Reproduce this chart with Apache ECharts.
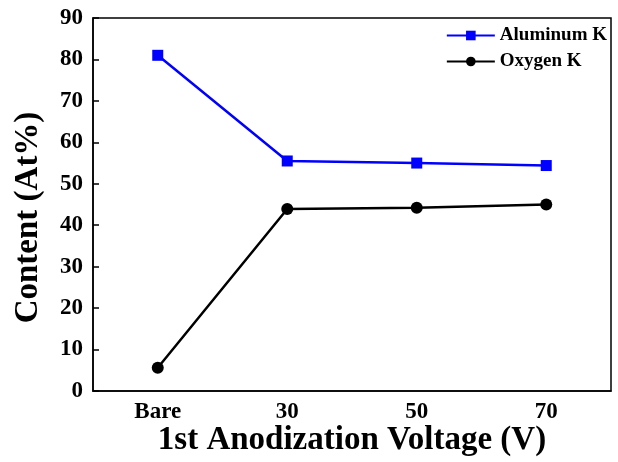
<!DOCTYPE html>
<html>
<head>
<meta charset="utf-8">
<script src="https://cdn.jsdelivr.net/npm/echarts@6/dist/echarts.min.js"></script>
<style>
  html, body { margin:0; padding:0; background:#fff; }
  #chart { width:618px; height:462px; }
</style>
</head>
<body>
<div id="chart"></div>
<script>
	var voltages = ['Bare', '30', '50', '70'];
	var aluminumK = [81.0, 55.5, 55.0, 54.4];
	var oxygenK = [5.6, 43.9, 44.2, 45.0];
	var yTicks = [0, 90, 10]; // min, max, step

	var FONT = '"Liberation Serif", "Times New Roman", serif';
	var myChart = echarts.init(document.getElementById('chart'));

	var option = {
	    backgroundColor: '#fff',
	    animation: false,
	    grid: {
	        left: 93, right: 7, top: 18, bottom: 71,
	        outerBoundsMode: 'none',
	        containLabel: false,
	        show: true,
	        borderColor: '#000',
	        borderWidth: 1.5
	    },
	    legend: {
	        orient: 'vertical',
	        right: 6,
	        top: 21,
	        itemWidth: 48,
	        itemHeight: 12,
	        itemGap: 7,
	        textStyle: { fontFamily: FONT, fontWeight: 'bold', fontSize: 19, color: '#000' },
	        data: ['Aluminum K', 'Oxygen K']
	    },
	    xAxis: {
	        type: 'category',
	        data: voltages,
	        boundaryGap: true,
	        name: '1st Anodization Voltage (V)',
	        nameLocation: 'middle',
	        nameGap: 33,
	        nameMoveOverlap: false,
	        nameTextStyle: { fontFamily: FONT, fontWeight: 'bold', fontSize: 33, color: '#000' },
	        axisLine: { lineStyle: { color: '#000', width: 1.5 } },
	        axisTick: { inside: true, alignWithLabel: true, length: 6, lineStyle: { color: '#000', width: 1.5 } },
	        axisLabel: { fontFamily: FONT, fontWeight: 'bold', fontSize: 23, color: '#000', margin: 10 },
	        splitLine: { show: false }
	    },
	    yAxis: {
	        type: 'value',
	        min: yTicks[0],
	        max: yTicks[1],
	        interval: yTicks[2],
	        name: 'Content (At%)',
	        nameLocation: 'middle',
	        nameGap: 48,
	        nameMoveOverlap: false,
	        nameTextStyle: { fontFamily: FONT, fontWeight: 'bold', fontSize: 33, color: '#000', padding: [0, 26, 0, 0] },
	        axisLine: { show: true, lineStyle: { color: '#000', width: 1.5 } },
	        axisTick: { show: true, inside: true, length: 6, lineStyle: { color: '#000', width: 1.5 } },
	        axisLabel: { fontFamily: FONT, fontWeight: 'bold', fontSize: 23, color: '#000', margin: 10 },
	        splitLine: { show: false }
	    },
	    series: [
	        {
	            name: 'Aluminum K',
	            type: 'line',
	            data: aluminumK,
	            symbol: 'rect',
	            symbolSize: 11,
	            color: '#0000ff',
	            lineStyle: { color: '#0000ff', width: 2.5 },
	            itemStyle: { color: '#0000ff' }
	        },
	        {
	            name: 'Oxygen K',
	            type: 'line',
	            data: oxygenK,
	            symbol: 'circle',
	            symbolSize: 12,
	            color: '#000',
	            lineStyle: { color: '#000', width: 2.5 },
	            itemStyle: { color: '#000' }
	        }
	    ]
	};
	myChart.setOption(option);
</script>
</body>
</html>
